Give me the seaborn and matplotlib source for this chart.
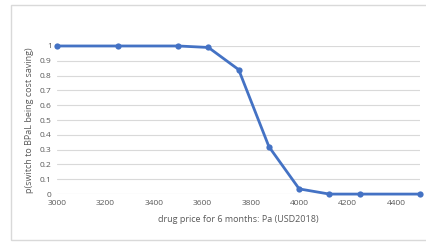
import pandas as pd
import matplotlib.pyplot as plt
import seaborn as sns
from matplotlib.patches import Rectangle

# values
price = [3000, 3250, 3500, 3625, 3750, 3875, 4000, 4125, 4250, 4500]
p_saving = [1.0, 1.0, 1.0, 0.99, 0.84, 0.32, 0.035, 0.0, 0.0, 0.0]
x_ticks = [3000, 3200, 3400, 3600, 3800, 4000, 4200, 4400]
y_ticks = [0, 0.1, 0.2, 0.3, 0.4, 0.5, 0.6, 0.7, 0.8, 0.9, 1]

df = pd.DataFrame({'price': price, 'p': p_saving})

sns.set_style('white')
plt.rcParams['font.family'] = ['Open Sans', 'DejaVu Sans']

fig = plt.figure(figsize=(4.27, 2.42), dpi=100)
ax = fig.add_axes([0.134, 0.198, 0.850, 0.612])

# light chart border like the excel chart box
fig.patches.append(Rectangle((11 / 427, 0.01), 1.0, 0.97, transform=fig.transFigure,
                             fill=False, edgecolor='#d9d9d9', linewidth=1))

sns.lineplot(data=df, x='price', y='p', ax=ax, color='#4472C4', linewidth=2,
             marker='o', markersize=4.5, markeredgewidth=0, clip_on=False, zorder=3)

ax.set_xlim(3000, 4500)
ax.set_ylim(0, 1)
ax.set_xticks(x_ticks)
ax.set_yticks(y_ticks)
ax.set_yticklabels(['0', '0.1', '0.2', '0.3', '0.4', '0.5', '0.6', '0.7', '0.8', '0.9', '1'])
ax.yaxis.grid(True, color='#d9d9d9', linewidth=0.8)
ax.xaxis.grid(False)
for s in ax.spines.values():
    s.set_visible(False)
ax.tick_params(axis='both', length=0, labelsize=6, colors='#595959', pad=4)

ax.set_xlabel('drug price for 6 months: Pa (USD2018)', fontsize=6.5, color='#595959', labelpad=6)
ax.set_ylabel('p(switch to BPaL being cost saving)', fontsize=6.5, color='#595959', labelpad=4)

plt.savefig('out.png', dpi=100)
